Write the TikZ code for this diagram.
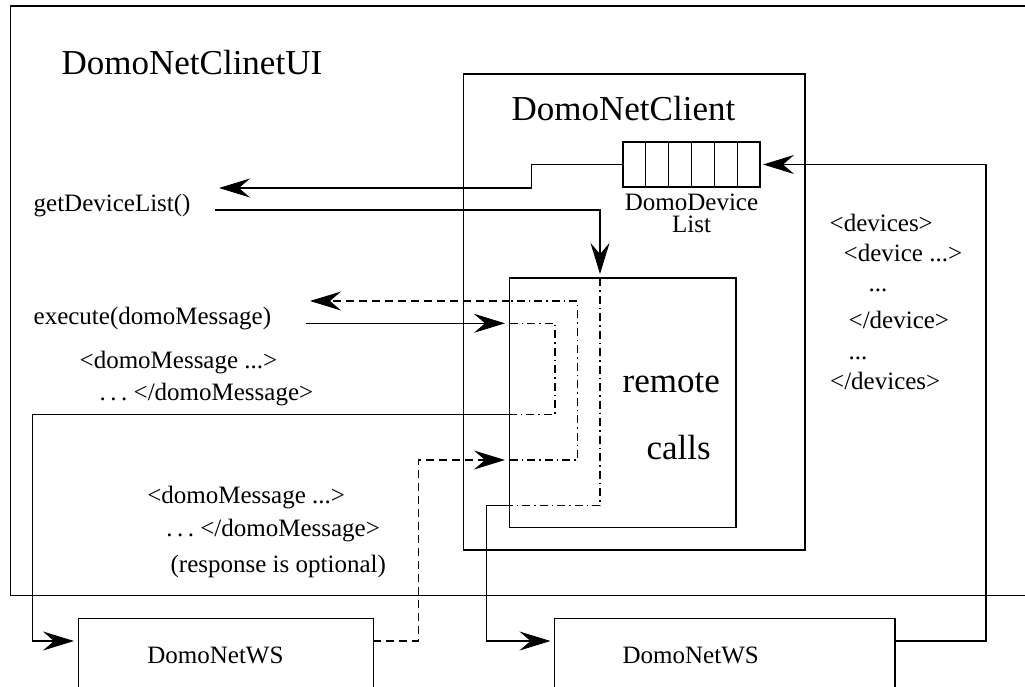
\documentclass[tikz,border=0pt]{standalone}
\usepackage{fontspec}
\setmainfont{Liberation Serif}
\usetikzlibrary{arrows.meta}
\begin{document}
\begin{tikzpicture}[x=1pt,y=-1pt, line width=1.3pt,
  box/.style={draw, inner sep=0pt, outer sep=0pt, anchor=north west},
  big/.style={font=\fontsize{35}{42}\selectfont, inner sep=0pt, anchor=base west},
  small/.style={font=\fontsize{25}{30}\selectfont, inner sep=0pt, anchor=base west},
  arr/.style={-{Stealth[length=31pt,width=19pt,inset=11pt]}},
  dsh/.style={dash pattern=on 8pt off 5pt},
  dd/.style={dash pattern=on 8pt off 4pt on 1.5pt off 4pt}]
\clip (0,0) rectangle (1025,686);
\fill[white] (0,0) rectangle (1025,686);

% outer UI frame (cut off on the right)
\draw (1030,6) -- (10.3,6) -- (10.3,595.5) -- (1030,595.5);
\node[big] (uititle) at (61,74) {DomoNetClinetUI};

% client box
\node[box, minimum width=341.5pt, minimum height=476pt] (client) at (463.5,74) {};
\node[big] (clienttitle) at (511,120) {DomoNetClient};

% device list
\node[box, minimum width=137pt, minimum height=45pt] (list) at (623,142) {};
\foreach \x in {645.8,668.7,691.5,714.3,737.2} \draw (\x,142) -- (\x,187);
\node[font=\fontsize{25}{22}\selectfont, inner sep=0pt, align=center, anchor=north] (ddl) at (691.5,193.5) {DomoDevice\\List};

% remote calls
\node[box, minimum width=226.5pt, minimum height=249.5pt] (remote) at (509.5,278) {};
\node[big] (rem1) at (622,392) {remote};
\node[big] (rem2) at (646,459) {calls};

% web services
\node[box, minimum width=295pt, minimum height=100pt] (ws1) at (78.3,618.3) {};
\node[small] (ws1t) at (146.7,663) {DomoNetWS};
\node[box, minimum width=340.4pt, minimum height=100pt] (ws2) at (554.6,618.3) {};
\node[small] (ws2t) at (622,663) {DomoNetWS};

% left texts
\node[small] (gdl) at (33,211) {getDeviceList()};
\node[small] (exe) at (33,324) {execute(domoMessage)};
\node[small] (m1a) at (79,368) {<domoMessage ...>};
\node[small] (m1b) at (99,400) {.\kern4.5pt.\kern4.5pt.\ </domoMessage>};
\node[small] (m2a) at (146.7,503) {<domoMessage ...>};
\node[small] (m2b) at (165.7,536) {.\kern4.5pt.\kern4.5pt.\ </domoMessage>};
\node[small] (m2c) at (170,572) {(response is optional)};

% devices text
\node[small] (d1) at (829,231) {<devices>};
\node[small] (d2) at (843,261) {<device ...>};
\node[small] (d3) at (868,291) {...};
\node[small] (d4) at (848,328) {</device>};
\node[small] (d5) at (848,359) {...};
\node[small] (d6) at (829.5,389) {</devices>};

% connectors
\coordinate (gdlret) at (219,188);
\draw[arr] (list.west) -- (531.7,164.5) -- (531.7,188) -- (gdlret);

\coordinate (gdlout) at (215,210);
\draw[arr] (gdlout) -- (600,210) -- (600,274);
\draw[dd] (600,278) -- (600,505.5) -- (509.5,505.5);
\draw[arr] (509.5,505.5) -- (486.5,505.5) -- (486.5,641) -- (550.5,641);

\coordinate (exeout) at (305.7,323.3);
\draw[arr] (exeout) -- (505,323.3);
\draw[dd] (509.5,323.3) -- (555,323.3) -- (555,414.3) -- (509.5,414.3);
\draw[arr] (509.5,414.3) -- (32.7,414.3) -- (32.7,641) -- (74,641);

\draw[arr,dsh] (373.3,641) -- (418.3,641) -- (418.3,460) -- (505,460);
\draw[dd] (509.5,460) -- (577.7,460) -- (577.7,301) -- (509.5,301);
\coordinate (exeret) at (310,301);
\draw[arr,dsh] (509.5,301) -- (exeret);

\draw[arr] (895,641) -- (986,641) -- (986,164.5) -- (763,164.5);
\end{tikzpicture}
\end{document}
